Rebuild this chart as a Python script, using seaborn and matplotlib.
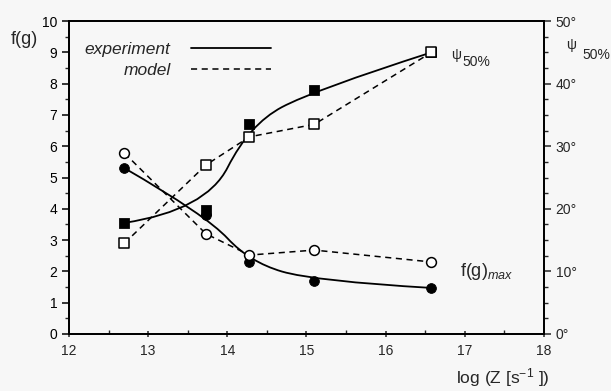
import numpy as np
import pandas as pd
import matplotlib
matplotlib.use("Agg")
import matplotlib.pyplot as plt
from matplotlib.lines import Line2D
from matplotlib.path import Path
from matplotlib.patches import PathPatch
from matplotlib.ticker import MultipleLocator
import seaborn as sns

# data
logz = [12.7, 13.73, 14.28, 15.1, 16.58]
psi_exp = [17.75, 19.75, 33.5, 39.0, 45.0]      # degrees, right axis
psi_model = [14.5, 27.0, 31.5, 33.5, 45.0]
fg_exp = [5.3, 3.8, 2.3, 1.69, 1.47]             # left axis
fg_model = [5.78, 3.2, 2.52, 2.68, 2.3]

df = pd.DataFrame({"logz": logz, "psi_exp": psi_exp, "psi_model": psi_model,
                   "fg_exp": fg_exp, "fg_model": fg_model})


def bspline(xs, ys):
    # quadratic B-spline using the points as control points (like Origin's B-spline line)
    pts = list(zip(xs, ys))
    verts, codes = [pts[0]], [Path.MOVETO]
    for i in range(1, len(pts) - 1):
        if i < len(pts) - 2:
            end = ((pts[i][0] + pts[i + 1][0]) / 2, (pts[i][1] + pts[i + 1][1]) / 2)
        else:
            end = pts[-1]
        verts += [pts[i], end]
        codes += [Path.CURVE3, Path.CURVE3]
    return PathPatch(Path(verts, codes), fill=False, edgecolor="black", lw=1.3)


sns.set_style("ticks")
plt.rcParams["font.family"] = ["Liberation Sans", "DejaVu Sans"]
plt.rcParams["mathtext.fontset"] = "custom"
plt.rcParams["mathtext.rm"] = "Liberation Sans"
plt.rcParams["mathtext.it"] = "Liberation Sans:italic"
bg = "#f7f7f7"

fig = plt.figure(figsize=(6.11, 3.91), dpi=100, facecolor=bg)
ax = fig.add_axes([0.113, 0.146, 0.777, 0.80])
ax.set_facecolor(bg)
ax2 = ax.twinx()

# f(g)max, left axis
ax.add_patch(bspline(df["logz"], df["fg_exp"]))
sns.lineplot(data=df, x="logz", y="fg_model", color="black", lw=1.1, ax=ax)
ax.lines[-1].set_dashes((4, 3))
sns.scatterplot(data=df, x="logz", y="fg_exp", marker="o", s=50,
                color="black", edgecolor="black", ax=ax, zorder=5)
sns.scatterplot(data=df, x="logz", y="fg_model", marker="o", s=50,
                facecolor="white", edgecolor="black", linewidth=1.1, ax=ax, zorder=6)

# psi 50%, right axis
ax2.add_patch(bspline(df["logz"], df["psi_exp"]))
sns.lineplot(data=df, x="logz", y="psi_model", color="black", lw=1.1, ax=ax2)
ax2.lines[-1].set_dashes((4, 3))
sns.scatterplot(data=df, x="logz", y="psi_exp", marker="s", s=50,
                color="black", edgecolor="black", ax=ax2, zorder=5)
sns.scatterplot(data=df, x="logz", y="psi_model", marker="s", s=50,
                facecolor="white", edgecolor="black", linewidth=1.1, ax=ax2, zorder=6)

ax.set_xlim(12, 18)
ax.set_ylim(0, 10)
ax2.set_ylim(0, 50)
ax.set_xlabel("")
ax.set_ylabel("")
ax2.set_ylabel("")

ax.xaxis.set_major_locator(MultipleLocator(1))
ax.xaxis.set_minor_locator(MultipleLocator(0.5))
ax.yaxis.set_major_locator(MultipleLocator(1))
ax.yaxis.set_minor_locator(MultipleLocator(0.5))
ax2.set_yticks(range(0, 51, 10))
ax2.set_yticklabels([f"{v}°" for v in range(0, 51, 10)])
ax2.yaxis.set_minor_locator(MultipleLocator(2.5))

for a in (ax, ax2):
    for s in a.spines.values():
        s.set_visible(True)
        s.set_linewidth(1.3)
        s.set_color("black")
ax.tick_params(axis="y", which="major", direction="out", length=5, width=1.1, labelsize=10, colors="black")
ax.tick_params(axis="y", which="minor", direction="out", length=3, width=1.0)
ax.tick_params(axis="x", which="major", direction="inout", length=5, width=1.1, labelsize=10, pad=5)
ax.tick_params(axis="x", which="minor", direction="in", length=3, width=1.0)
ax2.tick_params(axis="y", which="major", direction="out", length=5, width=1.1, labelsize=10)
ax2.tick_params(axis="y", which="minor", direction="out", length=3, width=1.0)

# legend
handles = [Line2D([], [], color="black", lw=1.3),
           Line2D([], [], color="black", lw=1.1, dashes=(4, 3))]
ax.legend(handles, ["experiment", "model"], loc="upper left",
          bbox_to_anchor=(0.0, 0.985), frameon=False, markerfirst=False,
          handlelength=4.6, handletextpad=1.2, labelspacing=0.35,
          prop=dict(style="italic", size=12.5))

# labels
ax.text(-0.095, 0.94, "f(g)", transform=ax.transAxes, fontsize=13, va="center", ha="center")
ax.text(0.815, 0.891, "ψ", transform=ax.transAxes, fontsize=10, va="center", ha="center")
ax.text(0.829, 0.869, "50%", transform=ax.transAxes, fontsize=10, va="center")
ax.text(1.057, 0.923, "ψ", transform=ax.transAxes, fontsize=10, va="center", ha="center")
ax.text(1.082, 0.891, "50%", transform=ax.transAxes, fontsize=10, va="center")
ax.text(0.823, 0.20, "f(g)$_{max}$", transform=ax.transAxes, fontsize=13, va="center")
ax.text(1.013, -0.14, "log (Z [s$^{-1}$ ])", transform=ax.transAxes, fontsize=12.5,
        va="center", ha="right")

fig.savefig("out.png", dpi=100, facecolor=bg)
